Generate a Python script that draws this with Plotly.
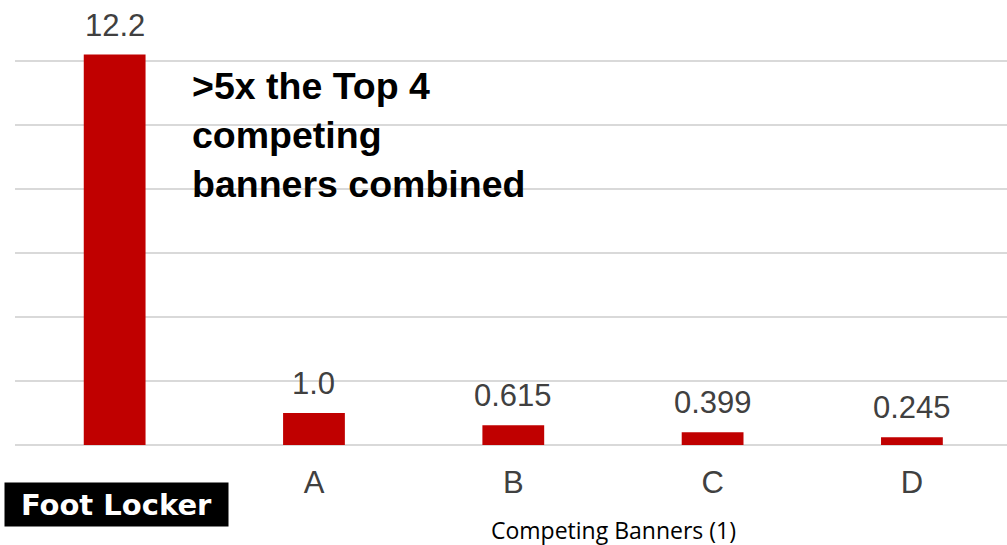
import plotly.graph_objects as go

categories = ["Foot Locker", "A", "B", "C", "D"]
values = [12.2, 1.0, 0.615, 0.399, 0.245]
value_labels = ["12.2", "1.0", "0.615", "0.399", "0.245"]
tick_labels = ["", "A", "B", "C", "D"]
callout = "<b>>5x the Top 4<br>competing<br>banners combined</b>"
axis_title = "Competing Banners (1)"

W, H = 1007, 545
ml, mr, mt, mb = 15, 0, 0, 100
PW, PH = W - ml - mr, H - mt - mb


def px(x):
    return (x - ml) / PW


def py(y):
    return (H - mb - y) / PH


fig = go.Figure()
fig.add_trace(go.Bar(
    x=list(range(len(categories))), y=values,
    marker=dict(color="#c00000", line=dict(width=0)),
    width=0.31, hoverinfo="skip",
))

annotations = [
    dict(text=t, x=i, y=v, xref="x", yref="y", xanchor="center", yanchor="bottom",
         yshift=10, showarrow=False,
         font=dict(family="Liberation Sans, Arial", size=31, color="#404040"))
    for i, (v, t) in enumerate(zip(values, value_labels))
]
annotations += [
    dict(text=callout, x=px(190), y=py(63), xref="paper", yref="paper",
         xanchor="left", yanchor="top", align="left", showarrow=False,
         font=dict(family="Liberation Sans, Arial", size=37.5, color="black")),
    dict(text="<b>" + categories[0] + "</b>", x=px(116), y=py(504),
         xref="paper", yref="paper", xanchor="center", yanchor="middle",
         showarrow=False, bgcolor="black", width=217, height=37, borderpad=3,
         font=dict(family="DejaVu Sans", size=29, color="white", weight=900)),
    dict(text=axis_title, x=px(613), y=py(530), xref="paper", yref="paper",
         xanchor="center", yanchor="middle", showarrow=False,
         font=dict(family="Open Sans, Noto Sans", size=23, color="black")),
]

fig.update_layout(
    width=W, height=H,
    margin=dict(l=ml, r=mr, t=mt, b=mb),
    plot_bgcolor="white", paper_bgcolor="white",
    showlegend=False,
    xaxis=dict(range=[-0.5, 4.477], tickvals=list(range(len(categories))),
               ticktext=tick_labels, showgrid=False, zeroline=False,
               showline=False, ticks="", ticklen=0, ticklabelstandoff=16,
               tickfont=dict(family="Liberation Sans, Arial", size=31, color="#404040")),
    yaxis=dict(range=[0, 445 / 32], dtick=2, showticklabels=False,
               showgrid=True, gridcolor="#d9d9d9", gridwidth=2,
               zeroline=True, zerolinecolor="#d9d9d9", zerolinewidth=2,
               showline=False, ticks=""),
    annotations=annotations,
)

fig.write_html("out.html", config={"displayModeBar": False},
               post_script="document.body.style.margin='0px';")
